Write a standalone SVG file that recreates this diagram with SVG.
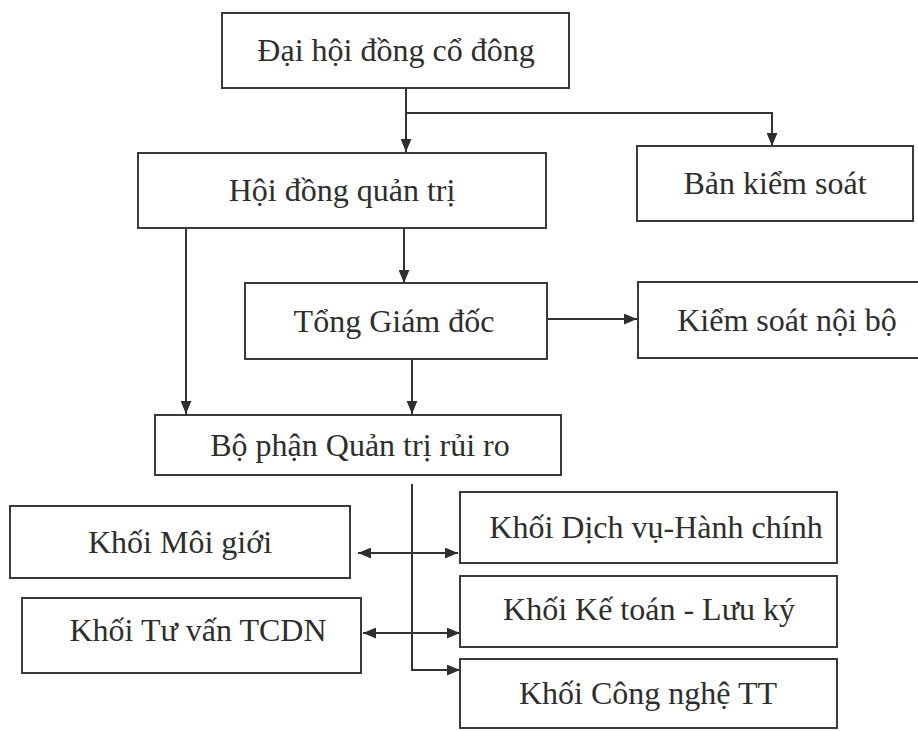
<svg xmlns="http://www.w3.org/2000/svg" width="918" height="731" viewBox="0 0 918 731">
<defs>
<style>
.box{fill:none;stroke:#3a3a3a;stroke-width:2}
.lbl{font-family:"Liberation Serif","DejaVu Serif",serif;font-size:32px;fill:#2e2e2e;text-anchor:middle}
.con{fill:none;stroke:#333;stroke-width:2}
</style>
<marker id="ah" viewBox="0 0 12 10" refX="12" refY="5" markerWidth="13" markerHeight="11" markerUnits="userSpaceOnUse" orient="auto-start-reverse">
<path d="M0,0 L12,5 L0,10 Z" fill="#2e2e2e"/>
</marker>
</defs>
<rect width="918" height="731" fill="#ffffff"/>
<g id="connectors">
<path class="con" d="M406 88 V152" marker-end="url(#ah)"/>
<path class="con" d="M406 113 H772 V146" marker-end="url(#ah)"/>
<path class="con" d="M404 228 V283" marker-end="url(#ah)"/>
<path class="con" d="M186 228 V414" marker-end="url(#ah)"/>
<path class="con" d="M547 319 H637" marker-end="url(#ah)"/>
<path class="con" d="M412 359 V414" marker-end="url(#ah)"/>
<path class="con" d="M412 484 V670 H460" marker-end="url(#ah)"/>
<path class="con" d="M358 553 H458" marker-start="url(#ah)" marker-end="url(#ah)"/>
<path class="con" d="M363 633 H460" marker-start="url(#ah)" marker-end="url(#ah)"/>
</g>
<g id="dhdcd"><rect class="box" x="222" y="13" width="347" height="75"/><text class="lbl" x="396" y="61">Đại hội đồng cổ đông</text></g>
<g id="hdqt"><rect class="box" x="138" y="153" width="408" height="75"/><text class="lbl" x="342" y="201">Hội đồng quản trị</text></g>
<g id="bks"><rect class="box" x="637" y="146" width="276" height="75"/><text class="lbl" x="775" y="194">Bản kiểm soát</text></g>
<g id="tgd"><rect class="box" x="245" y="283" width="302" height="76"/><text class="lbl" x="394" y="332">Tổng Giám đốc</text></g>
<g id="ksnb"><rect class="box" x="638" y="282" width="285" height="76"/><text class="lbl" x="787" y="331">Kiểm soát nội bộ</text></g>
<g id="bpqtrr"><rect class="box" x="155" y="415" width="406" height="60"/><text class="lbl" x="360" y="456">Bộ phận Quản trị rủi ro</text></g>
<g id="kmg"><rect class="box" x="10" y="506" width="340" height="72"/><text class="lbl" x="180" y="553">Khối Môi giới</text></g>
<g id="ktv"><rect class="box" x="22" y="598" width="339" height="75"/><text class="lbl" x="198" y="641">Khối Tư vấn TCDN</text></g>
<g id="kdv"><rect class="box" x="460" y="492" width="377" height="71"/><text class="lbl" x="656" y="538">Khối Dịch vụ-Hành chính</text></g>
<g id="kkt"><rect class="box" x="460" y="576" width="377" height="71"/><text class="lbl" x="649" y="620">Khối Kế toán - Lưu ký</text></g>
<g id="kcn"><rect class="box" x="460" y="659" width="377" height="69"/><text class="lbl" x="648" y="704">Khối Công nghệ TT</text></g>
</svg>
